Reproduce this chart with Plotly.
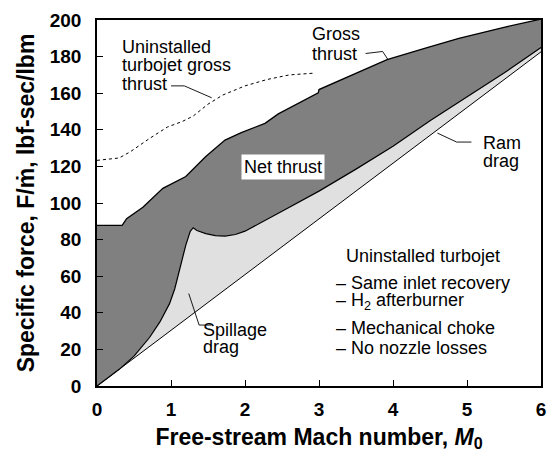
import plotly.graph_objects as go

# ---- data ----
ram_mach = [0, 1, 2, 3, 4, 5, 6]
ram_drag = [0, 30.4, 60.8, 91.2, 121.6, 152.0, 182.6]

spill_mach = [0, 0.3, 0.5, 0.71, 0.85, 0.98, 1.05, 1.11, 1.2, 1.26, 1.3, 1.35, 1.47, 1.6, 1.73,
              1.87, 2.0, 2.5, 3.0, 3.5, 4.0, 4.5, 5.0, 5.5, 6.0]
spill_total = [0, 9.1, 16.3, 26.5, 35, 45, 53, 63, 77, 84.5, 86.5, 85, 83.3, 82.2, 81.9,
               82.8, 84.6, 95.5, 106.5, 118.5, 131, 145, 158, 171, 185]

gross_mach = [0, 0.34, 0.40, 0.62, 0.89, 1.2, 1.47, 1.73, 1.95, 2.27, 2.45, 2.67, 2.99, 3.0,
              3.47, 3.92, 4.45, 4.89, 5.5, 6.0]
gross_thrust = [87.8, 87.8, 91.4, 97.7, 108, 114.5, 125.4, 134.4, 138.5, 143.5, 148.7, 153.2, 160.2, 162,
                170.3, 178.3, 184.8, 190, 196, 200.5]

uninst_mach = [0, 0.3, 0.45, 0.7, 0.95, 1.15, 1.3, 1.5, 1.7, 2.0, 2.3, 2.6, 2.95]
uninst_gross = [123.3, 124.6, 128, 135, 141.5, 144.5, 147.5, 154, 159, 164, 167.5, 170, 171]

x_ticks = [0, 1, 2, 3, 4, 5, 6]
y_ticks = [0, 20, 40, 60, 80, 100, 120, 140, 160, 180, 200]

FONT = "Liberation Sans, Arial, sans-serif"
DARK = "#808080"
LIGHT = "#e0e0e0"

fig = go.Figure()
fig.add_trace(go.Scatter(x=ram_mach, y=ram_drag, mode="lines",
                         line=dict(color="black", width=1), hoverinfo="skip"))
fig.add_trace(go.Scatter(x=spill_mach, y=spill_total, mode="lines", fill="tonexty",
                         fillcolor=LIGHT, line=dict(color="black", width=1.2), hoverinfo="skip"))
fig.add_trace(go.Scatter(x=gross_mach, y=gross_thrust, mode="lines", fill="tonexty",
                         fillcolor=DARK, line=dict(color="black", width=1.3), hoverinfo="skip"))
fig.add_trace(go.Scatter(x=uninst_mach, y=uninst_gross, mode="lines",
                         line=dict(color="black", width=1, dash="3px,3px"), hoverinfo="skip"))

def ann(text, x, y, xanchor="left", yanchor="middle", size=18, **kw):
    fig.add_annotation(text=text, x=x, y=y, xref="x", yref="y", showarrow=False,
                       xanchor=xanchor, yanchor=yanchor, align="left",
                       font=dict(family=FONT, size=size, color="black"), **kw)

ann("Uninstalled", 0.31, 185.5)
ann("turbojet gross", 0.31, 175.3)
ann("thrust", 0.31, 164.8)
ann("Gross", 2.88, 192.3)
ann("thrust", 2.88, 181.6)
ann("Ram", 5.19, 133.0)
ann("drag", 5.19, 123.0)
ann("Spillage", 1.41, 30.8)
ann("drag", 1.41, 21.3)
ann("Net thrust", 2.51, 119.6, xanchor="center", bgcolor="white", borderpad=2)
ann("Uninstalled turbojet", 4.41, 71, xanchor="center")
ann("– Same inlet recovery", 3.2, 56.5)
ann("– H<sub>2</sub> afterburner", 3.2, 46.2)
ann("– Mechanical choke", 3.2, 31.7)
ann("– No nozzle losses", 3.2, 21)

leaders = [
    ([1.0, 1.18, 1.55], [164, 164, 157.5]),
    ([3.63, 3.86, 3.93], [181.7, 182.8, 178.5]),
    ([5.06, 4.86, 4.60], [133.3, 133.3, 138.2]),
    ([1.55, 1.38, 1.24], [33.3, 33.3, 50.5]),
]
for lx, ly in leaders:
    path = "M {} {} L {} {} L {} {}".format(lx[0], ly[0], lx[1], ly[1], lx[2], ly[2])
    fig.add_shape(type="path", path=path, xref="x", yref="y",
                  line=dict(color="black", width=0.9))

axis_common = dict(showgrid=False, zeroline=False, showline=True, linecolor="black",
                   linewidth=1.5, mirror=True, ticks="inside", ticklen=6, tickcolor="black",
                   tickwidth=1, tickfont=dict(family=FONT, size=19, color="black", weight="bold"))

fig.update_xaxes(range=[0, 6], tickvals=x_ticks, ticktext=[str(v) for v in x_ticks],
                 title=dict(text="Free-stream Mach number, <i>M</i><sub>0</sub>",
                            font=dict(family=FONT, size=23, color="black", weight="bold"),
                            standoff=10),
                 ticklabelstandoff=5, **axis_common)
fig.update_yaxes(range=[0, 200], tickvals=y_ticks, ticktext=[str(v) for v in y_ticks],
                 title=dict(text="Specific force, F/ṁ, lbf-sec/lbm",
                            font=dict(family=FONT, size=23, color="black", weight="bold"),
                            standoff=9),
                 ticklabelstandoff=10, **axis_common)

fig.update_layout(width=556, height=456, margin=dict(l=97, r=10, t=18, b=66),
                  plot_bgcolor="white", paper_bgcolor="white", showlegend=False)

fig.write_html("out.html", config={"displayModeBar": False},
               post_script="document.body.style.margin='0px';")
